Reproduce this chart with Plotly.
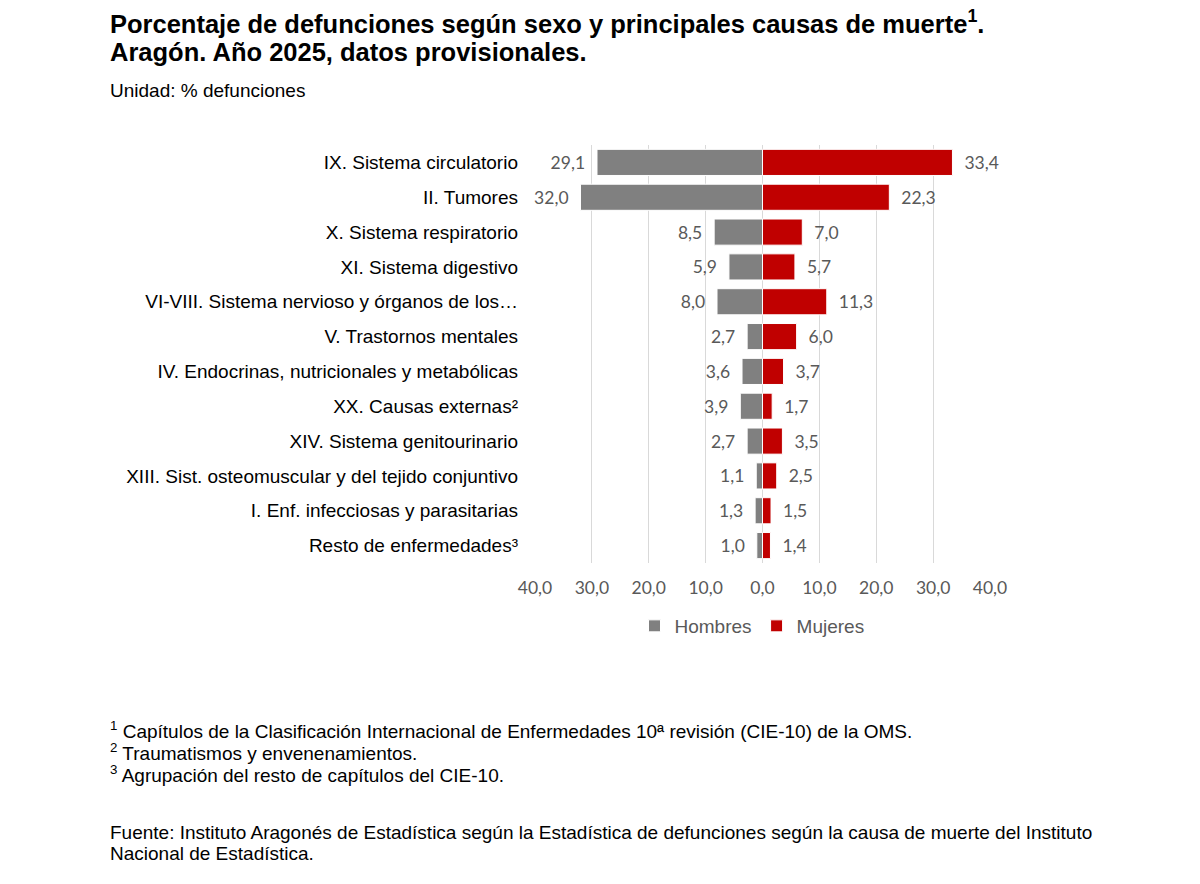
import plotly.graph_objects as go

categories = [
    "IX. Sistema circulatorio",
    "II. Tumores",
    "X. Sistema respiratorio",
    "XI. Sistema digestivo",
    "VI-VIII. Sistema nervioso y órganos de los…",
    "V. Trastornos mentales",
    "IV. Endocrinas, nutricionales y metabólicas",
    "XX. Causas externas²",
    "XIV. Sistema genitourinario",
    "XIII. Sist. osteomuscular y del tejido conjuntivo",
    "I. Enf. infecciosas y parasitarias",
    "Resto de enfermedades³",
]
hombres = [29.1, 32.0, 8.5, 5.9, 8.0, 2.7, 3.6, 3.9, 2.7, 1.1, 1.3, 1.0]
mujeres = [33.4, 22.3, 7.0, 5.7, 11.3, 6.0, 3.7, 1.7, 3.5, 2.5, 1.5, 1.4]
tick_vals = [-40, -30, -20, -10, 0, 10, 20, 30, 40]
tick_text = ["40,0", "30,0", "20,0", "10,0", "0,0", "10,0", "20,0", "30,0", "40,0"]

W, H = 1200, 884
def px(x): return x / W
def py(y): return 1 - y / H

fmt = lambda v: f"{v:.1f}".replace(".", ",")
label_font = dict(family="Lato, 'Open Sans', sans-serif", size=17.5, color="#595959")
SP = "\u00a0\u00a0"

fig = go.Figure()
fig.add_trace(go.Bar(
    y=categories, x=[-v for v in hombres], orientation="h", name="Hombres",
    marker=dict(color="#808080", line=dict(color="white", width=1)),
    text=[fmt(v) + SP for v in hombres], textposition="outside", textfont=label_font,
    cliponaxis=False, hoverinfo="skip",
))
fig.add_trace(go.Bar(
    y=categories, x=mujeres, orientation="h", name="Mujeres",
    marker=dict(color="#C00000", line=dict(color="white", width=1)),
    text=[SP + fmt(v) for v in mujeres], textposition="outside", textfont=label_font,
    cliponaxis=False, hoverinfo="skip",
))

fig.update_layout(
    width=W, height=H, margin=dict(l=0, r=0, t=0, b=0),
    paper_bgcolor="white", plot_bgcolor="white",
    barmode="relative", bargap=0.25,
    separators=",.",
    font=dict(family="'Liberation Sans', Arial, sans-serif", color="#000000"),
    xaxis=dict(domain=[px(535), px(990)], range=[-40, 40], tickvals=tick_vals, ticktext=tick_text,
               showgrid=True, gridcolor="#D9D9D9", gridwidth=1, zeroline=True, zerolinecolor="#D9D9D9",
               zerolinewidth=1, showline=False, ticks="", automargin=False,
               tickfont=dict(family="Lato, 'Open Sans', sans-serif", size=17.5, color="#595959"),
               ticklabelstandoff=12, fixedrange=True),
    yaxis=dict(domain=[py(563), py(145)], autorange="reversed", showgrid=False, ticks="",
               showline=False, automargin=False, ticklabelstandoff=16,
               tickfont=dict(family="'Liberation Sans', Arial, sans-serif", size=19, color="#000000"),
               fixedrange=True),
    showlegend=True,
    legend=dict(orientation="h", x=px(752), xanchor="center", y=py(626), yanchor="middle",
                font=dict(family="'Liberation Sans', Arial, sans-serif", size=19, color="#595959"),
                itemwidth=30, tracegroupgap=0),
)

annos = [
    (108, 22, "<b>Porcentaje de defunciones según sexo y principales causas de muerte<sup>1</sup>.</b>", 25.5),
    (108, 52, "<b>Aragón. Año 2025, datos provisionales.</b>", 25.5),
    (108, 91, "Unidad: % defunciones", 19),
    (108, 730, "<sup>1</sup> Capítulos de la Clasificación Internacional de Enfermedades 10ª revisión (CIE-10) de la OMS.", 19),
    (108, 752, "<sup>2</sup> Traumatismos y envenenamientos.", 19),
    (108, 774, "<sup>3</sup> Agrupación del resto de capítulos del CIE-10.", 19),
    (108, 832, "Fuente: Instituto Aragonés de Estadística según la Estadística de defunciones según la causa de muerte del Instituto", 19),
    (108, 853, "Nacional de Estadística.", 19),
]
for x, y, t, s in annos:
    fig.add_annotation(x=px(x), y=py(y), xref="paper", yref="paper", text=t, showarrow=False,
                       xanchor="left", yanchor="middle", align="left",
                       font=dict(family="'Liberation Sans', Arial, sans-serif", size=s, color="#000000"))

fig.write_html("out.html")
